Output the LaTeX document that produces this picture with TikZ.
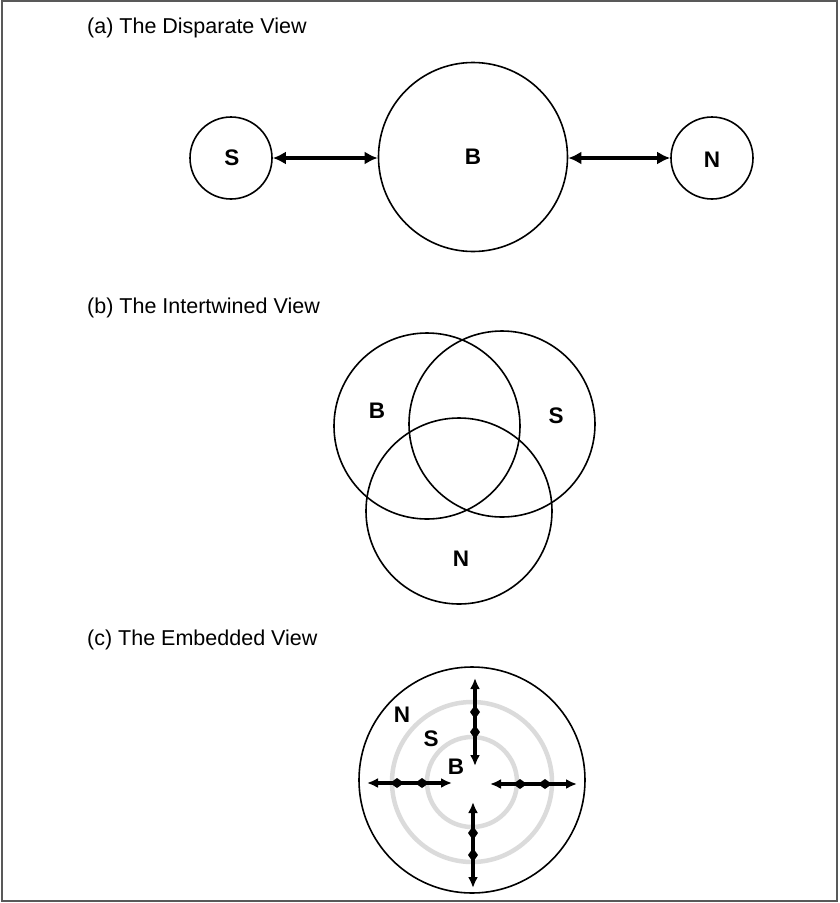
\documentclass[tikz,border=0pt]{standalone}
\usepackage{fontspec}
\setmainfont{Liberation Sans}
\usetikzlibrary{arrows.meta}
\begin{document}
\begin{tikzpicture}[x=1pt,y=-1pt,
  title/.style={anchor=base west,inner sep=0,font=\fontsize{21.5}{24}\selectfont},
  lab/.style={inner sep=0,font=\fontsize{22.5}{24}\selectfont\bfseries},
  ring/.style={circle,draw=black,line width=1.6pt,inner sep=0},
  dbl/.style={line width=4pt,{Latex[length=13pt,width=13pt]}-{Latex[length=13pt,width=13pt]}},
  sdbl/.style={line width=3.6pt,{Latex[length=11pt,width=10pt]}-{Latex[length=11pt,width=10pt]}},
  grayring/.style={draw=black!14,line width=4.5pt},
  vmark/.pic={\fill (0,-7)--(5,0)--(0,7)--(-5,0)--cycle;},
  hmark/.pic={\fill (-7,0)--(0,-5)--(7,0)--(0,5)--cycle;}]
\useasboundingbox (0,0) rectangle (839,903);
\draw[draw=black!65,line width=1.5pt] (2,1) rectangle (837,901);

% (a)
\node[title] (ta) at (87,33) {(a) The Disparate View};
\node[ring,minimum size=82pt] (aS) at (231,158) {};
\node[ring,minimum size=189pt] (aB) at (473,157) {};
\node[ring,minimum size=82pt] (aN) at (712,158) {};
\node[lab] (laS) at (232,158) {S};
\node[lab] (laB) at (473,157) {B};
\node[lab] (laN) at (712,160) {N};
\draw[dbl] (aS.east) -- (aB.west |- aS.east);
\draw[dbl] (aB.east |- aN.west) -- (aN.west);

% (b)
\node[title] (tb) at (87,313) {(b) The Intertwined View};
\node[ring,minimum size=186pt] (bB) at (427,426) {};
\node[ring,minimum size=186pt] (bS) at (502,424) {};
\node[ring,minimum size=186pt] (bN) at (459,511) {};
\node[lab] (lbB) at (377,411) {B};
\node[lab] (lbS) at (556,416) {S};
\node[lab] (lbN) at (461,559) {N};

% (c)
\node[title] (tc) at (87,645) {(c) The Embedded View};
\draw[grayring] (472,782) circle[radius=80];
\draw[grayring] (472,782) circle[radius=45];
\node[ring,minimum size=226pt] (cO) at (472,780) {};
\node[lab] (lcN) at (402,715) {N};
\node[lab] (lcS) at (431,739) {S};
\node[lab] (lcB) at (456,767) {B};

\coordinate (t1) at (475,678); \coordinate (t2) at (475,766);
\coordinate (b1) at (473,802); \coordinate (b2) at (473,888);
\coordinate (l1) at (367,783); \coordinate (l2) at (452,783);
\coordinate (r1) at (490,784); \coordinate (r2) at (577,784);
\draw[sdbl] (t1) -- (t2);
\draw[sdbl] (b1) -- (b2);
\draw[sdbl] (l1) -- (l2);
\draw[sdbl] (r1) -- (r2);
\pic at (475,712) {vmark}; \pic at (475,732) {vmark};
\pic at (473,833) {vmark}; \pic at (473,855) {vmark};
\pic at (397,783) {hmark}; \pic at (422,783) {hmark};
\pic at (520,784) {hmark}; \pic at (545,784) {hmark};
\end{tikzpicture}
\end{document}
